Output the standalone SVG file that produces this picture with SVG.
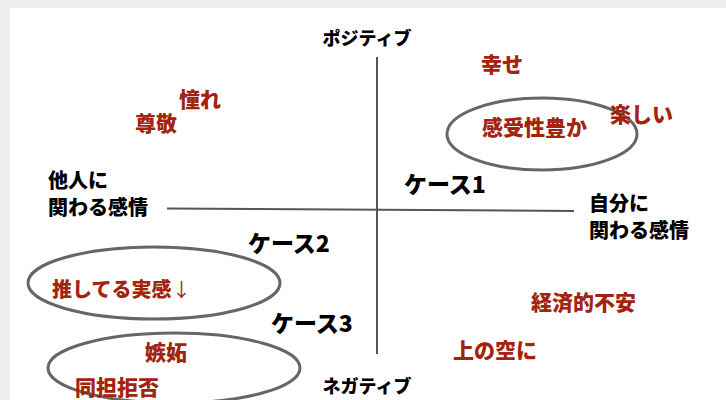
<svg xmlns="http://www.w3.org/2000/svg" width="726" height="400" viewBox="0 0 726 400">
<style>
text{font-family:"Noto Sans CJK JP","Liberation Sans",sans-serif;font-weight:900}
.red{fill:#a3230f;font-size:21px}
.ax{fill:#000;font-size:20px}
.pn{fill:#000;font-size:18px}
.case{fill:#000;font-size:23px}
.arr{font-weight:normal;font-size:19px}
.axis{stroke:#555;stroke-width:2;fill:none}
.ell{stroke:#666;stroke-width:3;fill:none}
</style>
<rect x="0" y="0" width="726" height="400" fill="#eeeeee"/>
<rect x="10" y="8" width="716" height="392" fill="#ffffff"/>
<g id="connectors">
<line class="axis" x1="377" y1="57" x2="377" y2="354"/>
<line class="axis" x1="167" y1="208.5" x2="574" y2="211"/>
</g>
<g id="ellipse1"><ellipse class="ell" cx="542" cy="134" rx="95" ry="36"/></g>
<g id="ellipse2"><ellipse class="ell" cx="154" cy="283" rx="126" ry="36"/></g>
<g id="ellipse3"><ellipse class="ell" cx="174" cy="368" rx="126" ry="35"/></g>
<g id="positive"><text class="pn" x="367" y="45" text-anchor="middle">ポジティブ</text></g>
<g id="negative"><text class="pn" x="367" y="393" text-anchor="middle">ネガティブ</text></g>
<g id="others"><text class="ax" x="48" y="188">他人に</text><text class="ax" x="48" y="215">関わる感情</text></g>
<g id="self"><text class="ax" x="589" y="211">自分に</text><text class="ax" x="589" y="238">関わる感情</text></g>
<g id="case1"><text class="case" x="404" y="193">ケース1</text></g>
<g id="case2"><text class="case" x="248" y="252">ケース2</text></g>
<g id="case3"><text class="case" x="271" y="332">ケース3</text></g>
<g id="shiawase"><text class="red" x="481" y="72">幸せ</text></g>
<g id="akogare"><text class="red" x="179" y="107">憧れ</text></g>
<g id="sonkei"><text class="red" x="135" y="131">尊敬</text></g>
<g id="tanoshii"><text class="red" x="610" y="122">楽しい</text></g>
<g id="kanjusei"><text class="red" x="482" y="135">感受性豊か</text></g>
<g id="oshiteru"><text class="red" x="52" y="297" style="font-size:20px">推してる実感<tspan class="arr" x="172">↓</tspan></text></g>
<g id="keizai"><text class="red" x="531" y="310">経済的不安</text></g>
<g id="uwanosora"><text class="red" x="453" y="358">上の空に</text></g>
<g id="shitto"><text class="red" x="145" y="360">嫉妬</text></g>
<g id="dotan"><text class="red" x="75" y="395">同担拒否</text></g>
</svg>
